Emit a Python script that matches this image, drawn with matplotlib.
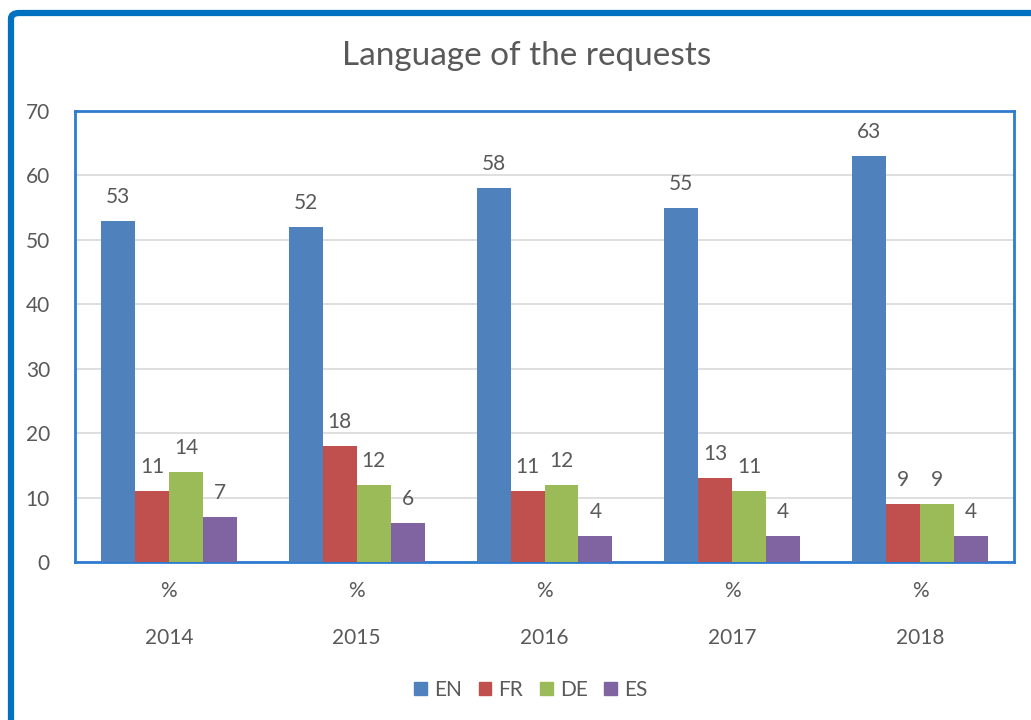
import numpy as np
import matplotlib.pyplot as plt
import matplotlib.patches as mpatches
from matplotlib.transforms import blended_transform_factory

# --- data ---
years = ['2014', '2015', '2016', '2017', '2018']
unit_label = '%'
series_names = ['EN', 'FR', 'DE', 'ES']
en = [53, 52, 58, 55, 63]
fr = [11, 18, 11, 13, 9]
de = [14, 12, 12, 11, 9]
es = [7, 6, 4, 4, 4]
colors = ['#4F81BD', '#C0504D', '#9BBB59', '#8064A2']

plt.rcParams['font.family'] = ['Lato', 'DejaVu Sans']
text_color = '#595959'
frame_blue = '#0070C0'

fig = plt.figure(figsize=(10.31, 7.2), dpi=100)
W, H = 1031, 720

# outer frame (left and top edges visible)
frame = mpatches.FancyBboxPatch((11 / W, -0.2), 1.2, (H - 13) / H + 0.2,
                                boxstyle='round,pad=0,rounding_size=0.008',
                                transform=fig.transFigure, fill=False,
                                edgecolor=frame_blue, linewidth=4.5)
fig.patches.append(frame)

ax = fig.add_axes([75 / W, 1 - 562 / H, (1014 - 75) / W, (562 - 111) / H])

x = np.arange(len(years))
bw = 0.181
all_series = [en, fr, de, es]
for i, (vals, name, c) in enumerate(zip(all_series, series_names, colors)):
    pos = x + (i - 1.5) * bw
    bars = ax.bar(pos, vals, width=bw, color=c, label=name, zorder=3)
    for b, v in zip(bars, vals):
        ax.annotate(str(v), (b.get_x() + b.get_width() / 2, v),
                    xytext=(0, 10), textcoords='offset points',
                    ha='center', va='bottom', fontsize=15, color=text_color)

ax.set_xlim(-0.5, len(years) - 0.5)
ax.set_ylim(0, 70)
ax.set_yticks(range(0, 71, 10))
ax.yaxis.grid(True, color='#D9D9D9', linewidth=1.2, zorder=0)
ax.set_axisbelow(True)
ax.tick_params(axis='y', length=0, labelsize=15, labelcolor=text_color, pad=18)
ax.set_xticks([])
for s in ax.spines.values():
    s.set_edgecolor('#2E7BCF')
    s.set_linewidth(2)

# two-level category labels
tr = blended_transform_factory(ax.transData, fig.transFigure)
for xi, yr in zip(x, years):
    ax.text(xi, 1 - 591 / H, unit_label, transform=tr, ha='center', va='center',
            fontsize=15, color=text_color)
    ax.text(xi, 1 - 638 / H, yr, transform=tr, ha='center', va='center',
            fontsize=15, color=text_color)

fig.text(527 / W, 1 - 56 / H, 'Language of the requests', ha='center', va='center',
         fontsize=24, color=text_color)

handles = [mpatches.Patch(color=c, label=n) for c, n in zip(colors, series_names)]
fig.legend(handles=handles, loc='center', bbox_to_anchor=(531 / W, 1 - 690 / H),
           ncol=4, frameon=False, fontsize=15, handlelength=0.6, handleheight=0.6,
           handletextpad=0.35, columnspacing=0.8, labelcolor=text_color)

fig.savefig('out.png', dpi=100)
